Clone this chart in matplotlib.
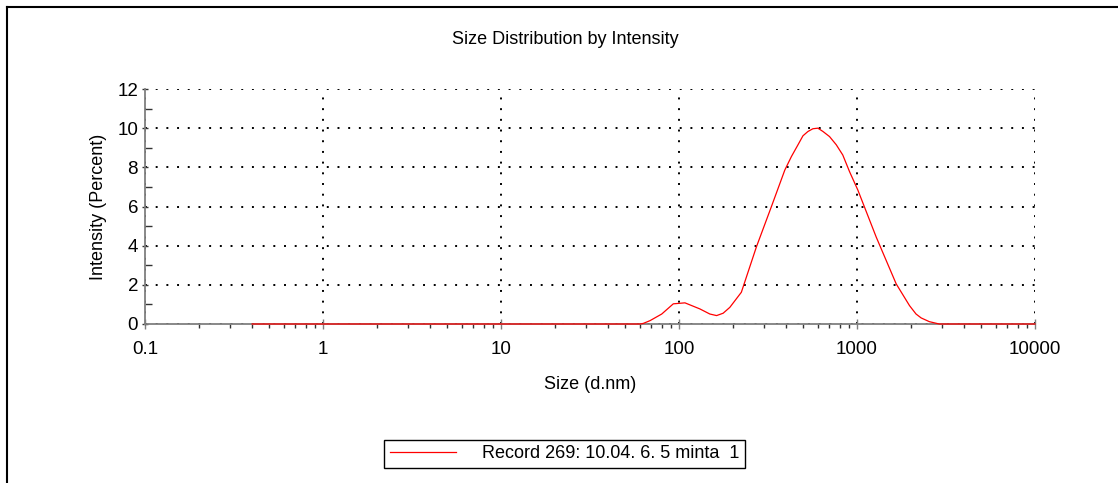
'''Size distribution by intensity (DLS record).'''

import matplotlib
matplotlib.use('Agg')
import matplotlib.pyplot as plt
from matplotlib.lines import Line2D
from matplotlib.ticker import LogLocator, FixedLocator, NullFormatter

plt.rcParams['font.family'] = ['Liberation Sans', 'DejaVu Sans']

# Values
size_nm = [0.4, 60.5, 63, 68.7, 80, 92.9, 108, 131, 149, 162.6, 177, 193,
           224, 272, 330, 393, 428, 466, 497, 530, 565, 603, 644, 701, 765,
           832, 908, 1011, 1282, 1660, 1972, 2146, 2293, 2548, 2897, 10000]
intensity = [0.0, 0.0, 0.03, 0.17, 0.51, 1.03, 1.08, 0.77, 0.51, 0.43, 0.55,
             0.85, 1.62, 3.93, 5.98, 7.86, 8.55, 9.15, 9.61, 9.83, 9.97,
             10.0, 9.83, 9.57, 9.15, 8.63, 7.78, 6.84, 4.44, 2.05, 0.94,
             0.51, 0.31, 0.12, 0.0, 0.0]
x_ticks = [0.1, 1, 10, 100, 1000, 10000]
x_labels = ['0.1', '1', '10', '100', '1000', '10000']
y_ticks = [0, 2, 4, 6, 8, 10, 12]
record_label = 'Record 269: 10.04. 6. 5 minta  1'

W, H = 1118, 483
fig = plt.figure(figsize=(W / 100, H / 100), dpi=100)
ax = fig.add_axes([145 / W, 1 - 324 / H, 890 / W, 235 / H])

ax.plot(size_nm, intensity, color='red', lw=0.9, zorder=5, clip_on=False)

ax.set_xscale('log')
ax.set_xlim(0.1, 10000)
ax.set_ylim(0, 12)

ax.xaxis.set_major_locator(FixedLocator(x_ticks))
ax.set_xticklabels(x_labels)
ax.xaxis.set_minor_locator(LogLocator(base=10, subs=range(2, 10), numticks=50))
ax.xaxis.set_minor_formatter(NullFormatter())
ax.yaxis.set_major_locator(FixedLocator(y_ticks))
ax.yaxis.set_minor_locator(FixedLocator([1, 3, 5, 7, 9, 11]))

gray = '#7f7f7f'
for side in ('top', 'right'):
    ax.spines[side].set_visible(False)
for side in ('left', 'bottom'):
    ax.spines[side].set_color(gray)
    ax.spines[side].set_linewidth(1.3)

ax.tick_params(axis='x', which='major', direction='inout', length=7,
               width=1, color=gray, labelsize=13.5, pad=9)
ax.tick_params(axis='x', which='minor', direction='out', length=3,
               width=1, color='#333333')
ax.tick_params(axis='y', which='major', direction='inout', length=4,
               width=1, color='#333333', labelsize=13.5, pad=3)
ax.tick_params(axis='y', which='minor', direction='in', length=5,
               width=1, color='#333333')

ax.grid(True, which='major', color='black', lw=1.4, linestyle=(0, (1, 4.5)))
ax.set_axisbelow(True)

ax.set_xlabel('Size (d.nm)', fontsize=13, labelpad=12.5)
ax.set_ylabel('Intensity (Percent)', fontsize=13, labelpad=7)
fig.text(565 / W, 1 - 39 / H, 'Size Distribution by Intensity',
         fontsize=13, ha='center', va='center')

handle = Line2D([], [], color='red', lw=0.9)
fig.legend([handle], [record_label], loc='center',
           bbox_to_anchor=(564.5 / W, 1 - 454 / H), fontsize=13,
           frameon=True, fancybox=False, edgecolor='black', framealpha=1,
           handlelength=3.65, handletextpad=1.45, borderpad=0.3,
           borderaxespad=0)

# frame lines of the original window
fig.add_artist(Line2D([7 / W, 1], [1 - 7 / H, 1 - 7 / H], color='black', lw=1.5))
fig.add_artist(Line2D([7 / W, 7 / W], [0, 1 - 7 / H], color='black', lw=1.5))

fig.savefig('out.png', dpi=100)
